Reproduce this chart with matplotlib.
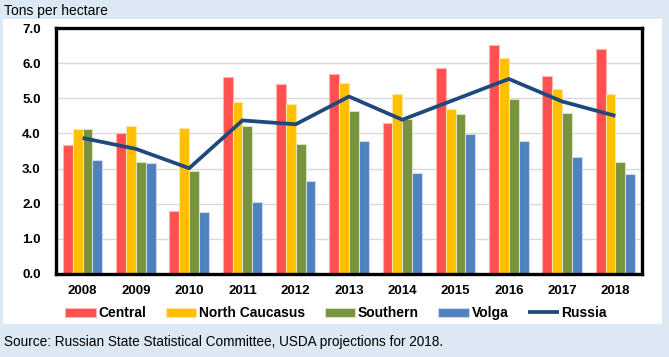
import matplotlib.pyplot as plt
from matplotlib.patches import Rectangle
import numpy as np

plt.rcParams['font.family'] = ['Liberation Sans', 'DejaVu Sans']

years = ['2008', '2009', '2010', '2011', '2012', '2013', '2014', '2015', '2016', '2017', '2018']
central = [3.67, 4.01, 1.80, 5.61, 5.40, 5.70, 4.31, 5.87, 6.53, 5.63, 6.40]
north_caucasus = [4.12, 4.21, 4.16, 4.89, 4.83, 5.43, 5.13, 4.70, 6.14, 5.26, 5.11]
southern = [4.12, 3.18, 2.93, 4.22, 3.70, 4.63, 4.42, 4.55, 4.98, 4.58, 3.18]
volga = [3.24, 3.15, 1.76, 2.04, 2.64, 3.78, 2.87, 3.97, 3.78, 3.32, 2.84]
russia = [3.87, 3.56, 3.01, 4.37, 4.26, 5.05, 4.39, 4.97, 5.55, 4.91, 4.50]

series = [
    ('Central', central, '#FF5050', '#FFB3B3'),
    ('North Caucasus', north_caucasus, '#FFC000', '#FFE699'),
    ('Southern', southern, '#77933C', '#D7E4BD'),
    ('Volga', volga, '#4F81BD', '#D0D8E8'),
]

W, H = 669, 357
fig = plt.figure(figsize=(W / 100, H / 100), dpi=100)
fig.patch.set_facecolor('#DCE8F4')

# white panel behind the chart
fig.patches.append(Rectangle((3 / W, 1 - 324 / H), 659 / W, 305 / H,
                             transform=fig.transFigure, facecolor='white',
                             edgecolor='none', zorder=0))

ax = fig.add_axes([56 / W, 1 - 274 / H, 586 / W, 246 / H])
ax.set_zorder(2)
ax.set_facecolor('white')

x = np.arange(len(years))
bw = 0.185
offsets = (np.arange(4) - 1.5) * bw
handles = []
for (name, vals, color, edge), off in zip(series, offsets):
    b = ax.bar(x + off, vals, bw, color=color, edgecolor=edge, linewidth=0.8,
               zorder=2, label=name)
    handles.append(b)

line, = ax.plot(x, russia, color='#1F497D', linewidth=2.7, zorder=3,
                solid_capstyle='butt', label='Russia')
handles.append(line)

ax.set_xlim(-0.5, len(years) - 0.5)
ax.set_ylim(0, 7)
ax.set_yticks(np.arange(0, 7.1, 1))
ax.set_yticklabels([f'{v:.1f}' for v in np.arange(0, 7.1, 1)])
ax.set_xticks(x)
ax.set_xticklabels(years)
ax.grid(axis='y', color='#D9D9D9', linewidth=1.0, zorder=0)
ax.set_axisbelow(True)
ax.tick_params(axis='y', length=0, pad=11, labelsize=9.5)
ax.tick_params(axis='x', length=0, pad=8, labelsize=9.5)
for lab in ax.get_xticklabels() + ax.get_yticklabels():
    lab.set_fontweight('bold')
for s in ax.spines.values():
    s.set_linewidth(2.4)
    s.set_color('black')

fig.text(4 / W, 1 - 11 / H, 'Tons per hectare', fontsize=10, va='center', ha='left')
fig.text(4 / W, 1 - 342 / H,
         'Source: Russian State Statistical Committee, USDA projections for 2018.',
         fontsize=9.85, va='center', ha='left')

leg = fig.legend(handles=handles, labels=[h.get_label() for h in handles],
                 loc='center', bbox_to_anchor=(336 / W, 1 - 313 / H), ncol=5,
                 frameon=False, prop={'weight': 'bold', 'size': 10},
                 handlelength=2.2, handleheight=0.6, handletextpad=0.2,
                 columnspacing=1.4, borderaxespad=0)
leg.set_zorder(3)

fig.savefig('out.png', dpi=100, facecolor=fig.get_facecolor())
